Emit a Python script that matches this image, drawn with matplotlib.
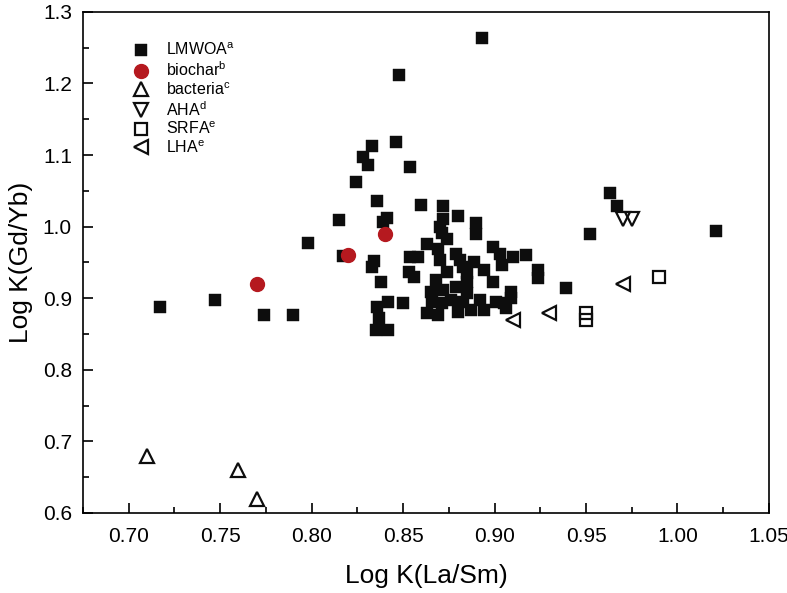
import matplotlib
matplotlib.use("Agg")
import matplotlib.pyplot as plt
from matplotlib.ticker import MultipleLocator, FormatStrFormatter

plt.rcParams['font.family'] = ['Liberation Sans', 'DejaVu Sans']
plt.rcParams['mathtext.fontset'] = 'custom'
plt.rcParams['mathtext.rm'] = 'Liberation Sans'

# LMWOA data (filled squares)
lmwoa_x = [0.717, 0.747, 0.774, 0.790, 0.798, 0.815, 0.817,
           0.833, 0.846, 0.828, 0.831, 0.854, 0.824, 0.836, 0.860, 0.872,
           0.841, 0.839, 0.880, 0.872, 0.870, 0.871, 0.890, 0.890, 0.874,
           0.863, 0.869, 0.899, 0.854, 0.858, 0.870, 0.879, 0.881, 0.889,
           0.883, 0.903, 0.910, 0.917, 0.904, 0.834, 0.833, 0.853, 0.856,
           0.874, 0.885, 0.894, 0.868, 0.885, 0.899, 0.924, 0.924, 0.838,
           0.865, 0.872, 0.879, 0.885, 0.909, 0.909, 0.842, 0.850, 0.836,
           0.866, 0.871, 0.876, 0.883, 0.892, 0.901, 0.905, 0.863, 0.869,
           0.880, 0.887, 0.894, 0.906, 0.837, 0.835, 0.842,
           0.848, 0.893, 0.963, 0.967, 0.952, 1.021, 0.939]
lmwoa_y = [0.888, 0.898, 0.877, 0.877, 0.977, 1.009, 0.959,
           1.113, 1.118, 1.097, 1.086, 1.083, 1.062, 1.036, 1.030, 1.029,
           1.012, 1.007, 1.015, 1.010, 1.000, 0.991, 1.005, 0.989, 0.982,
           0.976, 0.969, 0.972, 0.958, 0.958, 0.954, 0.962, 0.954, 0.951,
           0.944, 0.962, 0.958, 0.961, 0.947, 0.952, 0.943, 0.936, 0.929,
           0.937, 0.935, 0.940, 0.926, 0.923, 0.923, 0.940, 0.928, 0.923,
           0.909, 0.912, 0.916, 0.907, 0.909, 0.900, 0.895, 0.893, 0.888,
           0.895, 0.893, 0.898, 0.895, 0.898, 0.895, 0.893, 0.879, 0.877,
           0.881, 0.884, 0.884, 0.886, 0.872, 0.856, 0.856,
           1.212, 1.264, 1.047, 1.029, 0.990, 0.994, 0.914]

biochar_x = [0.77, 0.82, 0.84]
biochar_y = [0.92, 0.96, 0.99]

bacteria_x = [0.71, 0.76, 0.77]
bacteria_y = [0.68, 0.66, 0.62]

aha_x = [0.97, 0.975]
aha_y = [1.01, 1.01]

srfa_x = [0.99, 0.95, 0.95]
srfa_y = [0.93, 0.88, 0.87]

lha_x = [0.91, 0.93, 0.97]
lha_y = [0.87, 0.88, 0.92]

black = '#0d0d0d'
red = '#b5191f'

fig = plt.figure(figsize=(7.87, 5.93), dpi=100)
ax = fig.add_axes([0.1055, 0.135, 0.8715, 0.845])

ax.plot(lmwoa_x, lmwoa_y, 's', ms=8.9, color=black, mec=black, mew=0.3,
        linestyle='none', label=r'LMWOA$^{\mathrm{a}}$')
ax.plot(biochar_x, biochar_y, 'o', ms=10, color=red, mec=red,
        linestyle='none', label=r'biochar$^{\mathrm{b}}$')
ax.plot(bacteria_x, bacteria_y, '^', ms=10, mfc='none', mec=black, mew=1.6,
        linestyle='none', label=r'bacteria$^{\mathrm{c}}$')
ax.plot(aha_x, aha_y, 'v', ms=10, mfc='none', mec=black, mew=1.6,
        linestyle='none', label=r'AHA$^{\mathrm{d}}$')
ax.plot(srfa_x, srfa_y, 's', ms=8, mfc='none', mec=black, mew=1.6,
        linestyle='none', label=r'SRFA$^{\mathrm{e}}$')
ax.plot(lha_x, lha_y, '<', ms=10, mfc='none', mec=black, mew=1.6,
        linestyle='none', label=r'LHA$^{\mathrm{e}}$')

ax.set_xlim(0.675, 1.05)
ax.set_ylim(0.6, 1.3)
ax.xaxis.set_major_locator(MultipleLocator(0.05))
ax.xaxis.set_minor_locator(MultipleLocator(0.025))
ax.yaxis.set_major_locator(MultipleLocator(0.1))
ax.yaxis.set_minor_locator(MultipleLocator(0.05))
ax.xaxis.set_major_formatter(FormatStrFormatter('%.2f'))
ax.yaxis.set_major_formatter(FormatStrFormatter('%.1f'))
ax.tick_params(which='both', direction='in', top=False, right=False,
               width=1.2, labelsize=15, colors='black')
ax.tick_params(which='major', length=7.5)
ax.tick_params(which='minor', length=4)
ax.tick_params(axis='x', which='major', pad=10)
ax.tick_params(axis='y', which='major', pad=8)
for s in ax.spines.values():
    s.set_linewidth(1.2)

ax.set_xlabel('Log K(La/Sm)', fontsize=19, labelpad=13)
ax.set_ylabel('Log K(Gd/Yb)', fontsize=19, labelpad=7)

ax.legend(loc='upper left', frameon=False, fontsize=11.5,
          handletextpad=0.95, labelspacing=0.13, borderaxespad=0.0,
          bbox_to_anchor=(0.061, 0.953), handlelength=1.2)

fig.savefig('out.png', dpi=100)
